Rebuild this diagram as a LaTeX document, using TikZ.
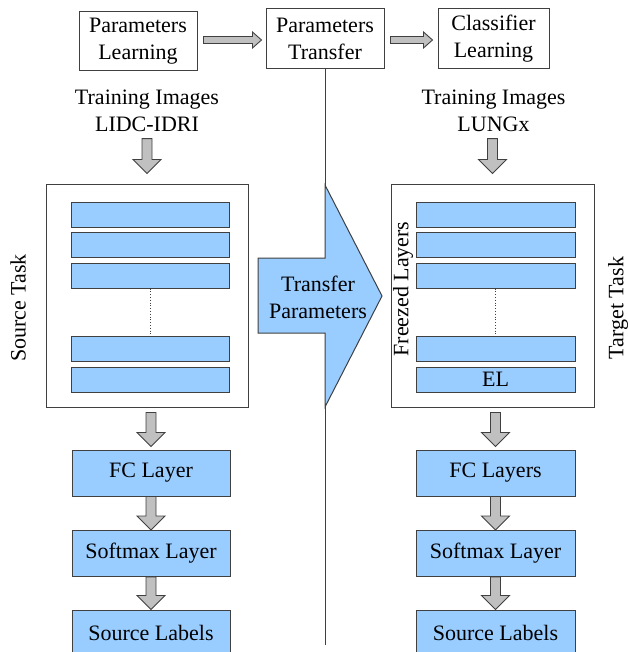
\documentclass[tikz,border=0pt]{standalone}
\usepackage{fontspec}
\setmainfont{Liberation Serif}
\usetikzlibrary{positioning,calc}

\definecolor{layerblue}{RGB}{153,204,255}
\definecolor{edge}{RGB}{64,64,64}
\definecolor{arrowgrey}{RGB}{192,192,192}

\tikzset{
  plainbox/.style={draw=edge, line width=1pt, fill=white, align=center, inner sep=0pt},
  layer/.style={draw=edge, line width=1pt, fill=layerblue, inner sep=0pt},
  fatarrow/.style={draw=edge, line width=0.9pt, fill=arrowgrey},
}

% grey block arrow pointing down, #1 = start, #2 = tip
\newcommand{\blockdown}[2]{%
  \path[fatarrow] let \p1=#1, \p2=#2 in
    (\x2-5pt,\y1) -- (\x2+5pt,\y1) -- (\x2+5pt,\y2+14pt) -- (\x2+14pt,\y2+14pt)
    -- (\x2,\y2) -- (\x2-14pt,\y2+14pt) -- (\x2-5pt,\y2+14pt) -- cycle;}
% grey block arrow pointing right
\newcommand{\blockright}[2]{%
  \path[fatarrow] let \p1=#1, \p2=#2 in
    (\x1,\y1+3.5pt) -- (\x2-9pt,\y1+3.5pt) -- (\x2-9pt,\y1+8pt) -- (\x2,\y1)
    -- (\x2-9pt,\y1-8pt) -- (\x2-9pt,\y1-3.5pt) -- (\x1,\y1-3.5pt) -- cycle;}

\begin{document}
\begin{tikzpicture}[x=1pt, y=-1pt, font=\fontsize{22}{27}\selectfont]
  \useasboundingbox (0,0) rectangle (627,652);

  % top row
  \node[plainbox, minimum width=118pt, minimum height=59pt] (plearn) at (138,41.5) {Parameters\\Learning};
  \node[plainbox, minimum width=118pt, minimum height=60pt] (ptrans) at (325,39) {Parameters\\Transfer};
  \node[plainbox, minimum width=111pt, minimum height=60pt] (clearn) at (493.5,39) {Classifier\\Learning};
  \blockright{($(plearn.east)+(6,-1.5)$)}{($(ptrans.west)+(-4,0)$)}
  \blockright{($(ptrans.east)+(6,1)$)}{($(clearn.west)+(-5,0)$)}

  % divider
  \coordinate (divend) at (325,645);
  \draw[edge, line width=1pt] (ptrans.south) -- (divend);

  % source side
  \node[align=center, inner sep=0pt] (lidc) at (147,110.5) {Training Images\\LIDC-IDRI};
  \node[plainbox, minimum width=202pt, minimum height=222pt] (srcbox) at (147,296) {};
  \blockdown{($(lidc.south)+(0,7)$)}{($(srcbox.north)+(0,-11)$)}
  \node[layer, minimum width=158pt, minimum height=25pt] (sbar1) at (150,215) {};
  \node[layer, minimum width=158pt, minimum height=25pt] (sbar2) at (150,244.5) {};
  \node[layer, minimum width=158pt, minimum height=25pt] (sbar3) at (150,275.5) {};
  \node[layer, minimum width=158pt, minimum height=25pt] (sbar4) at (150,348.5) {};
  \node[layer, minimum width=158pt, minimum height=25pt] (sbar5) at (150,379.5) {};
  \draw[edge, dotted, line width=0.8pt] (sbar3.south) -- (sbar4.north);
  \node[rotate=90] (srctask) at (18,308) {Source Task};

  \node[layer, minimum width=158pt, minimum height=46pt] (sfc) at (151,473) {FC Layer};
  \node[layer, minimum width=158pt, minimum height=46pt] (ssoft) at (151,553.5) {Softmax Layer};
  \node[layer, minimum width=158pt, minimum height=46pt] (slabel) at (151,633) {Source Labels};
  \blockdown{($(srcbox.south)+(0,5)$)}{($(sfc.north)+(0,-3)$)}
  \blockdown{(sfc.south)}{(ssoft.north)}
  \blockdown{(ssoft.south)}{(slabel.north)}

  % transfer arrow
  \draw[draw=edge, line width=1pt, fill=layerblue] (258,258) -- (325,258) -- (325,185)
    -- (382,296) -- (325,407) -- (325,333) -- (258,333) -- cycle;
  \node[align=center, inner sep=0pt] (transfer) at (318,297.5) {Transfer\\Parameters};

  % target side
  \node[align=center, inner sep=0pt] (lungx) at (493.5,110.5) {Training Images\\LUNGx};
  \node[plainbox, minimum width=203pt, minimum height=222pt] (tgtbox) at (492.5,296) {};
  \blockdown{($(lungx.south)+(0,7)$)}{($(tgtbox.north)+(0,-11)$)}
  \node[layer, minimum width=159pt, minimum height=25pt] (tbar1) at (495.5,215) {};
  \node[layer, minimum width=159pt, minimum height=25pt] (tbar2) at (495.5,244.5) {};
  \node[layer, minimum width=159pt, minimum height=25pt] (tbar3) at (495.5,275.5) {};
  \node[layer, minimum width=159pt, minimum height=25pt] (tbar4) at (495.5,348.5) {};
  \node[layer, minimum width=159pt, minimum height=25pt] (tbar5) at (495.5,379.5) {EL};
  \draw[edge, dotted, line width=0.8pt] (tbar3.south) -- (tbar4.north);
  \node[rotate=90] (freezed) at (403,289) {Freezed Layers};
  \node[rotate=90] (tgttask) at (618,308) {Target Task};

  \node[layer, minimum width=159pt, minimum height=46pt] (tfc) at (495.5,473) {FC Layers};
  \node[layer, minimum width=159pt, minimum height=46pt] (tsoft) at (495.5,553.5) {Softmax Layer};
  \node[layer, minimum width=159pt, minimum height=46pt] (tlabel) at (495.5,633) {Source Labels};
  \blockdown{($(tgtbox.south)+(0,5)$)}{($(tfc.north)+(0,-3)$)}
  \blockdown{(tfc.south)}{(tsoft.north)}
  \blockdown{(tsoft.south)}{(tlabel.north)}
\end{tikzpicture}
\end{document}
